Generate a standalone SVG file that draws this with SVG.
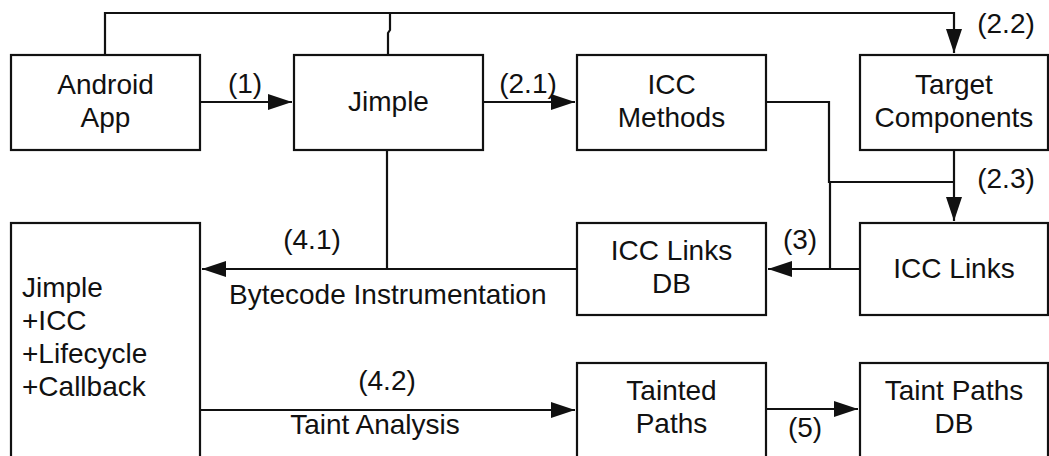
<svg xmlns="http://www.w3.org/2000/svg" width="1049" height="456" viewBox="0 0 1049 456">
<style>
.box{fill:#fff;stroke:#111;stroke-width:2.2}
.t{font-family:"Liberation Sans",Arial,sans-serif;font-size:28px;fill:#111;text-anchor:middle}
.l{text-anchor:start}
.c{fill:none;stroke:#111;stroke-width:2.2}
</style>
<defs>
<marker id="ah" markerUnits="userSpaceOnUse" markerWidth="24" markerHeight="16" refX="24" refY="8" orient="auto">
<path d="M0,0 L24,8 L0,16 z" fill="#111"/>
</marker>
</defs>
<rect width="1049" height="456" fill="#fff"/>
<g id="connectors">
<path class="c" d="M105,55 V13 H954 V53" marker-end="url(#ah)"/>
<path class="c" d="M388,55 V33 L390,30 V13"/>
<path class="c" d="M200,102 H292" marker-end="url(#ah)"/>
<path class="c" d="M483,102 H575" marker-end="url(#ah)"/>
<path class="c" d="M766,102 H829 V182 H954"/>
<path class="c" d="M830,182 V269"/>
<path class="c" d="M954,150 V221" marker-end="url(#ah)"/>
<path class="c" d="M860,269 H768" marker-end="url(#ah)"/>
<path class="c" d="M577,269 H202" marker-end="url(#ah)"/>
<path class="c" d="M387,150 V269"/>
<path class="c" d="M200,410 H575" marker-end="url(#ah)"/>
<path class="c" d="M766,409 H858" marker-end="url(#ah)"/>
<text class="t" x="245" y="93">(1)</text>
<text class="t" x="528" y="93">(2.1)</text>
<text class="t" x="1006" y="33">(2.2)</text>
<text class="t" x="1006" y="188">(2.3)</text>
<text class="t" x="800" y="249">(3)</text>
<text class="t" x="312" y="249">(4.1)</text>
<text class="t l" x="229" y="304">Bytecode Instrumentation</text>
<text class="t" x="387" y="390">(4.2)</text>
<text class="t" x="375" y="434">Taint Analysis</text>
<text class="t" x="805" y="437">(5)</text>
</g>
<g id="android-app">
<rect class="box" x="11" y="55" width="189" height="95"/>
<text class="t" x="105.5" y="94">Android</text>
<text class="t" x="105.5" y="127">App</text>
</g>
<g id="jimple">
<rect class="box" x="294" y="55" width="189" height="95"/>
<text class="t" x="388.5" y="111">Jimple</text>
</g>
<g id="icc-methods">
<rect class="box" x="577" y="55" width="189" height="95"/>
<text class="t" x="671.5" y="94">ICC</text>
<text class="t" x="671.5" y="127">Methods</text>
</g>
<g id="target-components">
<rect class="box" x="860" y="55" width="188" height="95"/>
<text class="t" x="954" y="94">Target</text>
<text class="t" x="954" y="127">Components</text>
</g>
<g id="jimple-plus">
<rect class="box" x="11" y="223" width="189" height="240"/>
<text class="t l" x="22" y="297">Jimple</text>
<text class="t l" x="22" y="330">+ICC</text>
<text class="t l" x="22" y="363">+Lifecycle</text>
<text class="t l" x="22" y="396">+Callback</text>
</g>
<g id="icc-links-db">
<rect class="box" x="577" y="223" width="189" height="92"/>
<text class="t" x="671.5" y="260">ICC Links</text>
<text class="t" x="671.5" y="293">DB</text>
</g>
<g id="icc-links">
<rect class="box" x="860" y="223" width="188" height="92"/>
<text class="t" x="954" y="278">ICC Links</text>
</g>
<g id="tainted-paths">
<rect class="box" x="577" y="363" width="189" height="100"/>
<text class="t" x="671.5" y="400">Tainted</text>
<text class="t" x="671.5" y="433">Paths</text>
</g>
<g id="taint-paths-db">
<rect class="box" x="860" y="363" width="188" height="100"/>
<text class="t" x="954" y="400">Taint Paths</text>
<text class="t" x="954" y="433">DB</text>
</g>
</svg>
